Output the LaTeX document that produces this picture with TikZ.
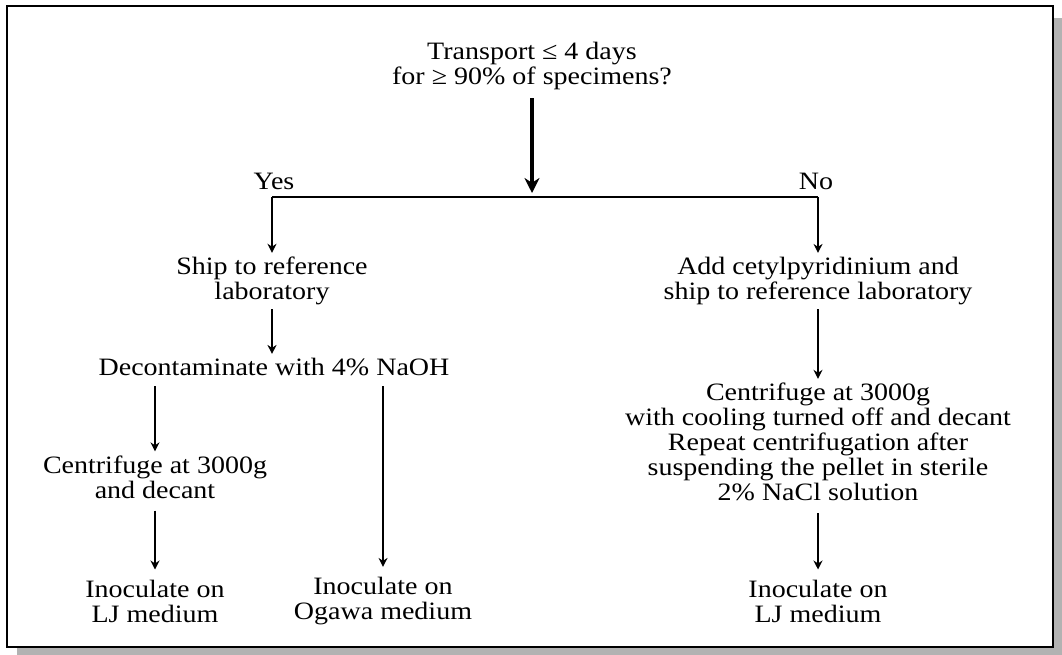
\documentclass[tikz,border=0pt]{standalone}
\usepackage{fontspec}
\setmainfont[FakeStretch=1.12]{Liberation Serif}
\usetikzlibrary{positioning,arrows.meta,calc}
\definecolor{shadowgrey}{RGB}{178,178,178}
\tikzset{
  txt/.style={align=center,inner sep=4pt,font=\fontsize{25}{25}\selectfont},
  flow/.style={-{Stealth[length=9pt,width=9pt]},line width=1.4pt},
  mainflow/.style={-{Stealth[length=15pt,width=15pt]},line width=3.5pt},
}
\begin{document}
\begin{tikzpicture}[x=1pt,y=-1pt]
  \useasboundingbox (0,0) rectangle (1062,655);
  % frame with drop shadow
  \fill[shadowgrey] (17,18) rectangle (1062,655);
  \draw[line width=2pt,fill=white] (7,6) rectangle (1053,647);
  % question
  \node[txt] (transport) at (532,66) {Transport ≤ 4 days\\for ≥ 90\% of specimens?};
  \coordinate (split) at (532,197);
  \node[txt] (yes) at (274,181) {Yes};
  \node[txt] (no) at (816,181) {No};
  % yes branch
  \node[txt] (ship) at (272,281) {Ship to reference\\laboratory};
  \node[txt] (decon) at (274,367) {Decontaminate with 4\% NaOH};
  \node[txt] (spinL) at (155,477) {Centrifuge at 3000g\\and decant};
  \node[txt] (ljL) at (155,601) {Inoculate on\\LJ medium};
  \node[txt] (ogawa) at (383,601) {Inoculate on\\Ogawa medium};
  % no branch
  \node[txt] (cetyl) at (818,281) {Add cetylpyridinium and\\ship to reference laboratory};
  \node[txt] (spinR) at (818,442) {Centrifuge at 3000g\\with cooling turned off and decant\\Repeat centrifugation after\\suspending the pellet in sterile\\2\% NaCl solution};
  \node[txt] (ljR) at (818,601) {Inoculate on\\LJ medium};
  % arrows
  \draw[mainflow,shorten >=4pt,shorten <=4pt] (transport.south) -- (split);
  \draw[line width=1.5pt] (ship.north |- split) -- (cetyl.north |- split);
  \draw[flow] (ship.north |- split) -- (ship.north);
  \draw[flow] (cetyl.north |- split) -- (cetyl.north);
  \draw[flow] (ship.south) -- (ship.south |- decon.north);
  \draw[flow,shorten <=6pt] (decon.south -| spinL) -- (spinL.north);
  \draw[flow,shorten <=6pt,shorten >=6pt] (decon.south -| ogawa) -- (ogawa.north);
  \draw[flow,shorten <=8pt,shorten >=6pt] (spinL.south) -- (ljL.north);
  \draw[flow] (cetyl.south) -- (spinR.north);
  \draw[flow,shorten <=8pt,shorten >=6pt] (spinR.south) -- (ljR.north);
\end{tikzpicture}
\end{document}
